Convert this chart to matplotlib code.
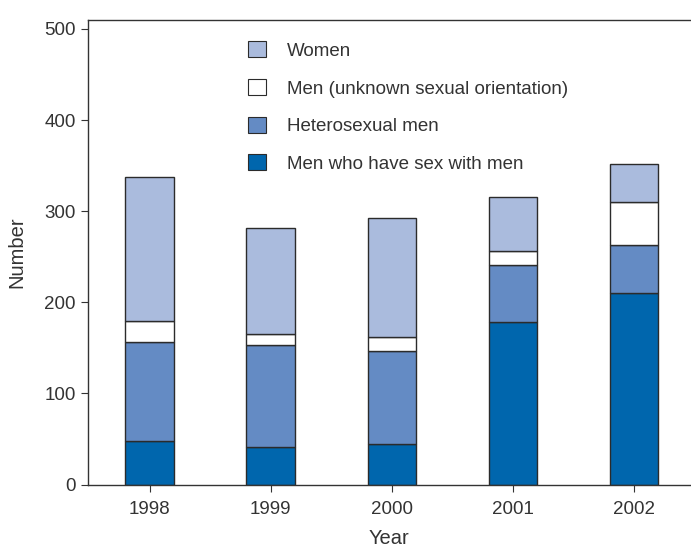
import matplotlib.pyplot as plt
import numpy as np
from matplotlib.patches import Patch

plt.rcParams['font.family'] = ['Liberation Sans', 'DejaVu Sans']

years = ['1998', '1999', '2000', '2001', '2002']
msm = [48, 41, 44, 178, 210]
hetero = [108, 112, 103, 63, 53]
unknown = [24, 12, 15, 15, 47]
women = [157, 116, 130, 60, 42]

labels = ['Men who have sex with men', 'Heterosexual men',
          'Men (unknown sexual orientation)', 'Women']
colors = ['#0066ad', '#648bc4', '#ffffff', '#aabbdd']
edge = '#2b2b2b'

fig = plt.figure(figsize=(6.91, 5.5), dpi=100)
ax = fig.add_axes([0.127, 0.119, 0.873, 0.845])

x = np.arange(len(years))
bottom = np.zeros(len(years))
for vals, col in zip([msm, hetero, unknown, women], colors):
    ax.bar(x, vals, 0.4, bottom=bottom, color=col, edgecolor=edge, linewidth=1.0)
    bottom += np.array(vals)

ax.set_xlim(-0.51, 4.47)
ax.set_ylim(0, 510)
ax.set_yticks([0, 100, 200, 300, 400, 500])
ax.set_xticks(x)
ax.set_xticklabels(years)
ax.tick_params(labelsize=13.5, colors='#333333', length=5, width=0.8)
ax.tick_params(axis='x', pad=7)
ax.set_xlabel('Year', fontsize=14.5, color='#333333', labelpad=8)
ax.set_ylabel('Number', fontsize=14.5, color='#333333', labelpad=13)

for s in ['left', 'bottom', 'top']:
    ax.spines[s].set_color('#333333')
    ax.spines[s].set_linewidth(1.0)
ax.spines['right'].set_visible(False)

handles = [Patch(facecolor=c, edgecolor=edge, linewidth=0.8) for c in colors]
leg = ax.legend(handles[::-1], labels[::-1], loc='upper left',
                bbox_to_anchor=(0.238, 0.99), frameon=False, fontsize=13.5,
                handlelength=0.95, handleheight=0.95, handletextpad=1.1,
                labelspacing=1.02)
for t in leg.get_texts():
    t.set_color('#333333')

fig.savefig('out.png', dpi=100)
